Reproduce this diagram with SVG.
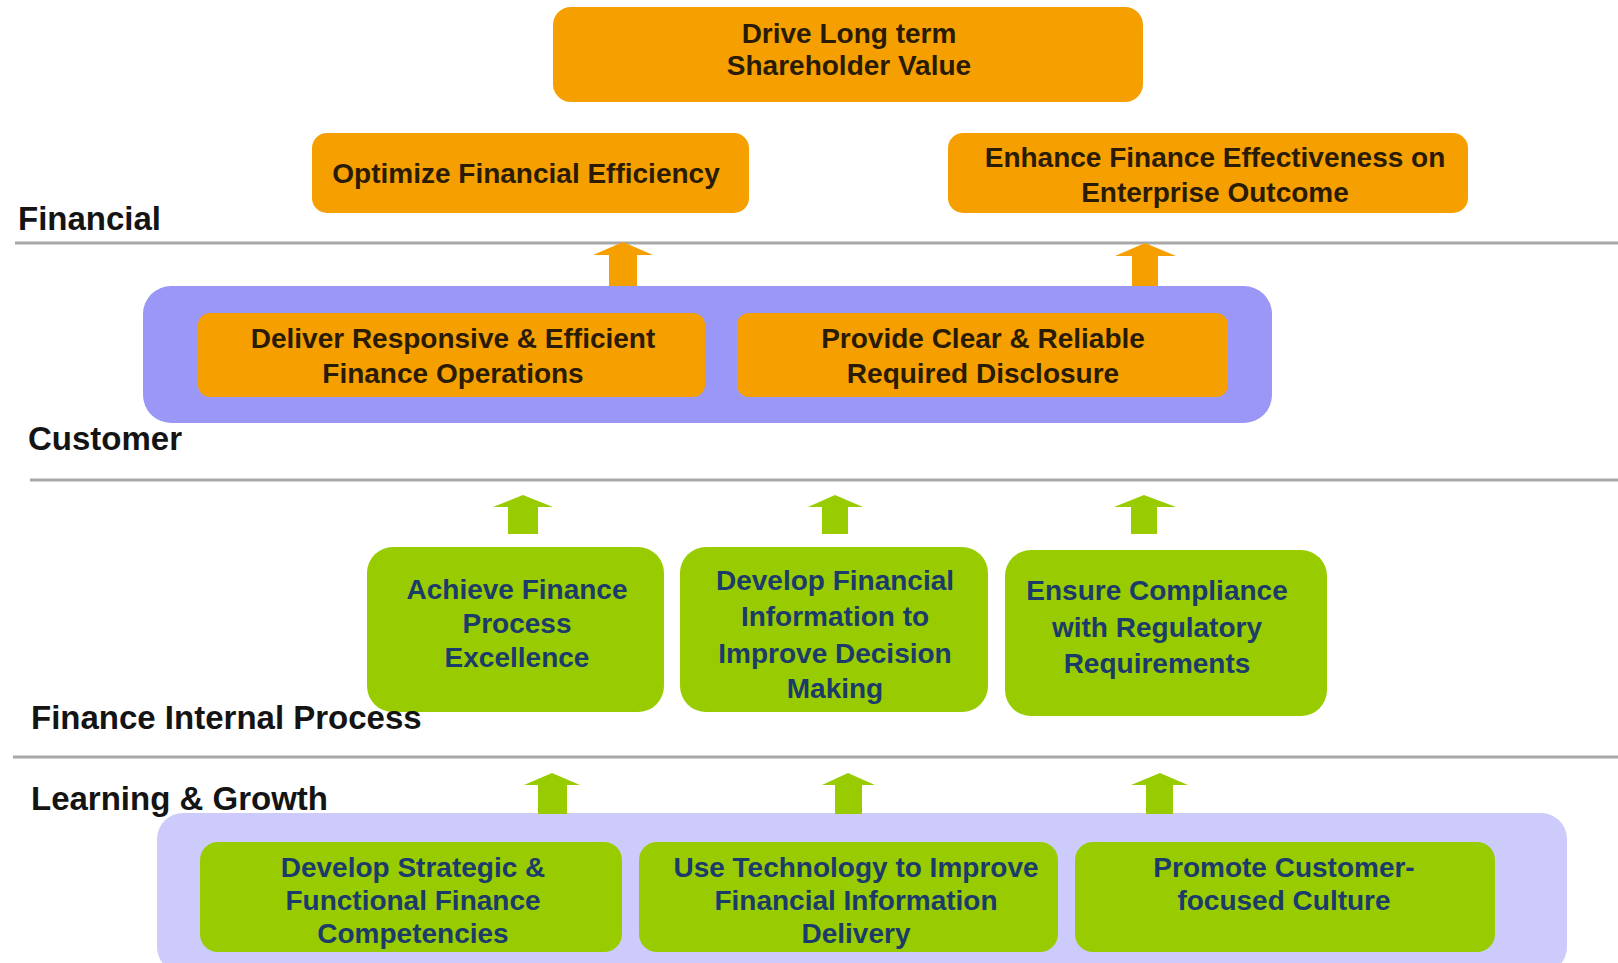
<svg xmlns="http://www.w3.org/2000/svg" width="1618" height="963" viewBox="0 0 1618 963">
  <style>
    .bg { fill: #ffffff; }
    .sep { stroke: #a8a8a8; stroke-width: 3; fill: none; }
    .lane { font-family: "Liberation Sans", Arial, sans-serif; font-weight: bold; font-size: 33px; fill: #141414; }
    .orange { fill: #f5a000; }
    .green { fill: #99cc00; }
    .cust-band { fill: #9a97f7; }
    .lg-band { fill: #cccbfb; }
    .otxt { font-family: "Liberation Sans", Arial, sans-serif; font-weight: bold; font-size: 28px; fill: #2a1b05; text-anchor: middle; }
    .gtxt { font-family: "Liberation Sans", Arial, sans-serif; font-weight: bold; font-size: 28px; fill: #1b3b6a; text-anchor: middle; }
    .arr-o { fill: #f5a000; }
    .arr-g { fill: #99cc00; }
  </style>

  <rect class="bg" x="0" y="0" width="1618" height="963"/>

  <!-- perspective separators -->
  <g id="separators">
    <line class="sep" x1="15" y1="243" x2="1618" y2="243"/>
    <line class="sep" x1="30" y1="480" x2="1618" y2="480"/>
    <line class="sep" x1="13" y1="757" x2="1618" y2="757"/>
  </g>

  <!-- background bands -->
  <g id="customer-band">
    <rect class="cust-band" x="143" y="286" width="1129" height="137" rx="28"/>
  </g>
  <g id="learning-band">
    <rect class="lg-band" x="157" y="813" width="1410" height="160" rx="26"/>
  </g>

  <!-- Financial -->
  <g id="drive-value">
    <rect class="orange" x="553" y="7" width="590" height="95" rx="18"/>
    <text class="otxt" x="849" y="43">Drive Long term</text>
    <text class="otxt" x="849" y="75">Shareholder Value</text>
  </g>
  <g id="optimize-efficiency">
    <rect class="orange" x="312" y="133" width="437" height="80" rx="15"/>
    <text class="otxt" x="526" y="183">Optimize Financial Efficiency</text>
  </g>
  <g id="enhance-effectiveness">
    <rect class="orange" x="948" y="133" width="520" height="80" rx="15"/>
    <text class="otxt" x="1215" y="167">Enhance Finance Effectiveness on</text>
    <text class="otxt" x="1215" y="202">Enterprise Outcome</text>
  </g>

  <!-- Customer -->
  <g id="deliver-operations">
    <rect class="orange" x="198" y="313" width="507" height="84" rx="12"/>
    <text class="otxt" x="453" y="348">Deliver Responsive &amp; Efficient</text>
    <text class="otxt" x="453" y="383">Finance Operations</text>
  </g>
  <g id="provide-disclosure">
    <rect class="orange" x="737" y="313" width="491" height="84" rx="12"/>
    <text class="otxt" x="983" y="348">Provide Clear &amp; Reliable</text>
    <text class="otxt" x="983" y="383">Required Disclosure</text>
  </g>

  <!-- Finance Internal Process -->
  <g id="process-excellence">
    <rect class="green" x="367" y="547" width="297" height="165" rx="26"/>
    <text class="gtxt" x="517" y="599">Achieve Finance</text>
    <text class="gtxt" x="517" y="633">Process</text>
    <text class="gtxt" x="517" y="667">Excellence</text>
  </g>
  <g id="decision-information">
    <rect class="green" x="680" y="547" width="308" height="165" rx="26"/>
    <text class="gtxt" x="835" y="590">Develop Financial</text>
    <text class="gtxt" x="835" y="626">Information to</text>
    <text class="gtxt" x="835" y="663">Improve Decision</text>
    <text class="gtxt" x="835" y="698">Making</text>
  </g>
  <g id="regulatory-compliance">
    <rect class="green" x="1005" y="550" width="322" height="166" rx="26"/>
    <text class="gtxt" x="1157" y="600">Ensure Compliance</text>
    <text class="gtxt" x="1157" y="637">with Regulatory</text>
    <text class="gtxt" x="1157" y="673">Requirements</text>
  </g>

  <!-- Learning & Growth -->
  <g id="finance-competencies">
    <rect class="green" x="200" y="842" width="422" height="110" rx="18"/>
    <text class="gtxt" x="413" y="877">Develop Strategic &amp;</text>
    <text class="gtxt" x="413" y="910">Functional Finance</text>
    <text class="gtxt" x="413" y="943">Competencies</text>
  </g>
  <g id="technology-delivery">
    <rect class="green" x="639" y="842" width="419" height="110" rx="18"/>
    <text class="gtxt" x="856" y="877">Use Technology to Improve</text>
    <text class="gtxt" x="856" y="910">Financial Information</text>
    <text class="gtxt" x="856" y="943">Delivery</text>
  </g>
  <g id="customer-culture">
    <rect class="green" x="1075" y="842" width="420" height="110" rx="18"/>
    <text class="gtxt" x="1284" y="877">Promote Customer-</text>
    <text class="gtxt" x="1284" y="910">focused Culture</text>
  </g>

  <!-- upward block arrows between perspectives -->
  <g id="connectors">
    <polygon class="arr-o" points="623,242 653,255 637,255 637,286 609,286 609,255 593,255"/>
    <polygon class="arr-o" points="1145,243 1176,256 1158,256 1158,286 1132,286 1132,256 1115,256"/>

    <polygon class="arr-g" points="523,495 553,507 538,507 538,534 508,534 508,507 493,507"/>
    <polygon class="arr-g" points="835,495 863,507 848,507 848,534 822,534 822,507 808,507"/>
    <polygon class="arr-g" points="1144,495 1176,507 1157,507 1157,534 1131,534 1131,507 1114,507"/>

    <polygon class="arr-g" points="552,773 580,785 567,785 567,814 538,814 538,785 524,785"/>
    <polygon class="arr-g" points="848,773 875,785 862,785 862,814 835,814 835,785 822,785"/>
    <polygon class="arr-g" points="1160,773 1188,785 1173,785 1173,814 1146,814 1146,785 1131,785"/>
  </g>

  <!-- perspective labels -->
  <g id="lane-labels">
    <text class="lane" x="18" y="230">Financial</text>
    <text class="lane" x="28" y="450">Customer</text>
    <text class="lane" x="31" y="729">Finance Internal Process</text>
    <text class="lane" x="31" y="810">Learning &amp; Growth</text>
  </g>
</svg>
